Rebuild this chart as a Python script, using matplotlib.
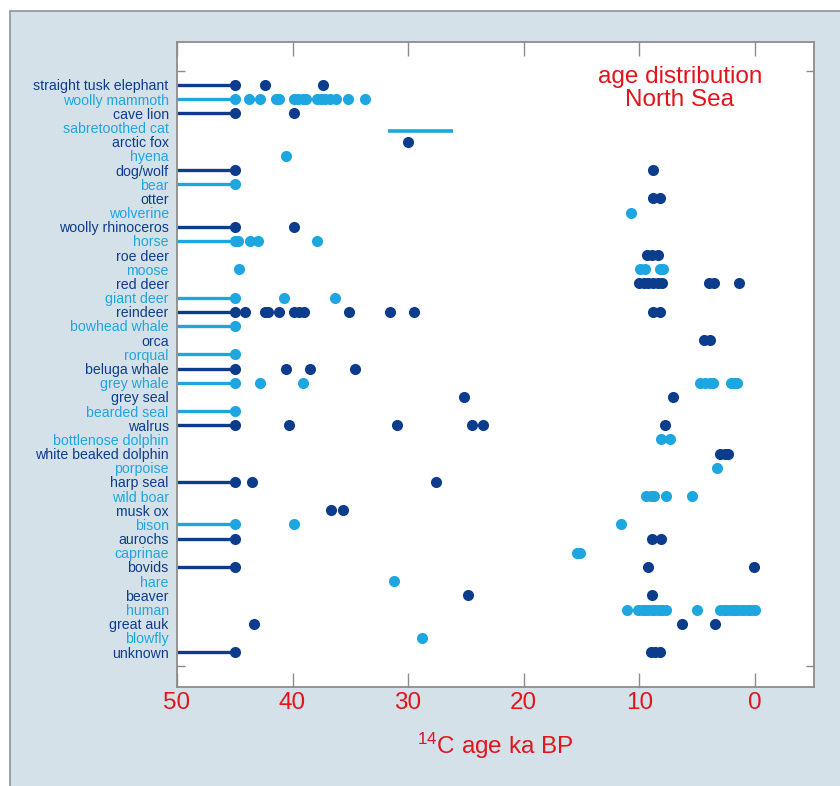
import matplotlib.pyplot as plt
from matplotlib.patches import Rectangle
from matplotlib.ticker import FixedLocator

plt.rcParams['font.family'] = ['Liberation Sans', 'DejaVu Sans']
plt.rcParams['mathtext.default'] = 'regular'

# 数据：每个物种的 14C 年龄 (ka BP)，45 表示 >45 ka
categories = ['straight tusk elephant', 'woolly mammoth', 'cave lion', 'sabretoothed cat',
              'arctic fox', 'hyena', 'dog/wolf', 'bear', 'otter', 'wolverine',
              'woolly rhinoceros', 'horse', 'roe deer', 'moose', 'red deer', 'giant deer',
              'reindeer', 'bowhead whale', 'orca', 'rorqual', 'beluga whale', 'grey whale',
              'grey seal', 'bearded seal', 'walrus', 'bottlenose dolphin',
              'white beaked dolphin', 'porpoise', 'harp seal', 'wild boar', 'musk ox',
              'bison', 'aurochs', 'caprinae', 'bovids', 'hare', 'beaver', 'human',
              'great auk', 'blowfly', 'unknown']

ages = [
    [45, 42.4, 37.4],
    [45, 43.8, 42.8, 41.4, 41.2, 39.9, 39.5, 39.1, 38.8, 37.9, 37.5, 37.2, 36.8, 36.2, 35.2, 33.7],
    [45, 39.9],
    [],
    [30.0],
    [40.6],
    [45, 8.8],
    [45],
    [8.8, 8.2],
    [10.7],
    [45, 39.9],
    [45, 44.7, 43.7, 43.0, 37.9],
    [9.3, 8.9, 8.4],
    [44.6, 9.9, 9.5, 8.2, 7.9],
    [10.0, 9.6, 9.2, 8.8, 8.4, 8.0, 4.0, 3.5, 1.4],
    [45, 40.7, 36.3],
    [45, 44.1, 42.4, 42.1, 41.2, 39.9, 39.4, 39.0, 35.1, 31.6, 29.5, 8.8, 8.2],
    [45],
    [4.4, 3.9],
    [45],
    [45, 40.6, 38.5, 34.6],
    [45, 42.8, 39.1, 4.7, 4.3, 3.9, 3.6, 2.1, 1.8, 1.5],
    [25.2, 7.1],
    [45],
    [45, 40.3, 31.0, 24.5, 23.5, 7.8],
    [8.1, 7.3],
    [3.0, 2.6, 2.3],
    [3.3],
    [45, 43.5, 27.6],
    [9.4, 9.0, 8.7, 7.7, 5.4],
    [36.7, 35.6],
    [45, 39.9, 11.6],
    [45, 8.9, 8.1],
    [15.4, 15.1],
    [45, 9.2, 0.1],
    [31.2],
    [24.8, 8.9],
    [11.1, 10.1, 9.8, 9.5, 9.2, 8.9, 8.6, 8.3, 8.0, 7.7, 5.0,
     3.0, 2.7, 2.4, 2.1, 1.8, 1.5, 1.2, 0.9, 0.6, 0.3, 0.0],
    [43.3, 6.3, 3.4],
    [28.8],
    [45, 9.0, 8.6, 8.2],
]

# 剑齿虎只有一个年龄区间
sabre_range = (31.7, 26.1)
x_ticks = [50, 40, 30, 20, 10, 0]

dark = '#0c3c8c'
light = '#1ea6e0'
red = '#e3141c'
gray = '#8c8c8c'

fig = plt.figure(figsize=(8.4, 7.86), dpi=100, facecolor='white')
# 背景框
fig.patches.append(Rectangle((10 / 840, -0.1), 1.1, 1 - 11 / 786 + 0.1,
                             transform=fig.transFigure, facecolor='#d5e1e9',
                             edgecolor='#8a949c', linewidth=1.2, zorder=-10))
ax = fig.add_axes([177 / 840, 1 - 686.5 / 786, (813.7 - 177) / 840, (686.5 - 42) / 786])
ax.set_facecolor('white')

for i, vals in enumerate(ages):
    c = dark if i % 2 == 0 else light
    if 45 in vals:
        ax.plot([50, 45], [i, i], color=c, linewidth=2.4, solid_capstyle='butt', zorder=2)
    if vals:
        ax.plot(vals, [i] * len(vals), 'o', color=c, markersize=8, markeredgewidth=0, zorder=3)

i_sabre = categories.index('sabretoothed cat')
ax.plot(sabre_range, [i_sabre + 0.25] * 2, color=light, linewidth=2.6, solid_capstyle='butt')

ax.text(0.79, 0.928, 'age distribution\nNorth Sea', transform=ax.transAxes, color=red,
        fontsize=17.5, ha='center', va='center', linespacing=1.08)

# 坐标轴
ax.set_xlim(50, -5.1)
ax.set_ylim(42.43, -3.03)
ax.set_xticks(x_ticks)
ax.set_xticklabels([str(t) for t in x_ticks], color=red, fontsize=17.5)
ax.tick_params(axis='x', direction='in', length=10, width=1, color=gray, top=True, pad=4)
ax.set_xlabel('$^{14}$C age ka BP', color=red, fontsize=17.5, labelpad=12)

ax.set_yticks(range(len(categories)))
ax.set_yticklabels(categories, fontsize=10.2)
for i, lab in enumerate(ax.get_yticklabels()):
    lab.set_color(dark if i % 2 == 0 else light)
ax.tick_params(axis='y', which='major', length=0, pad=6)
ax.yaxis.set_minor_locator(FixedLocator(range(-1, 42, 2)))
ax.tick_params(axis='y', which='minor', direction='in', length=6, width=1, color=gray,
               left=True, right=True)

for s in ax.spines.values():
    s.set_color(gray)
    s.set_linewidth(1.3)

fig.savefig('out.png', dpi=100, facecolor=fig.get_facecolor())
